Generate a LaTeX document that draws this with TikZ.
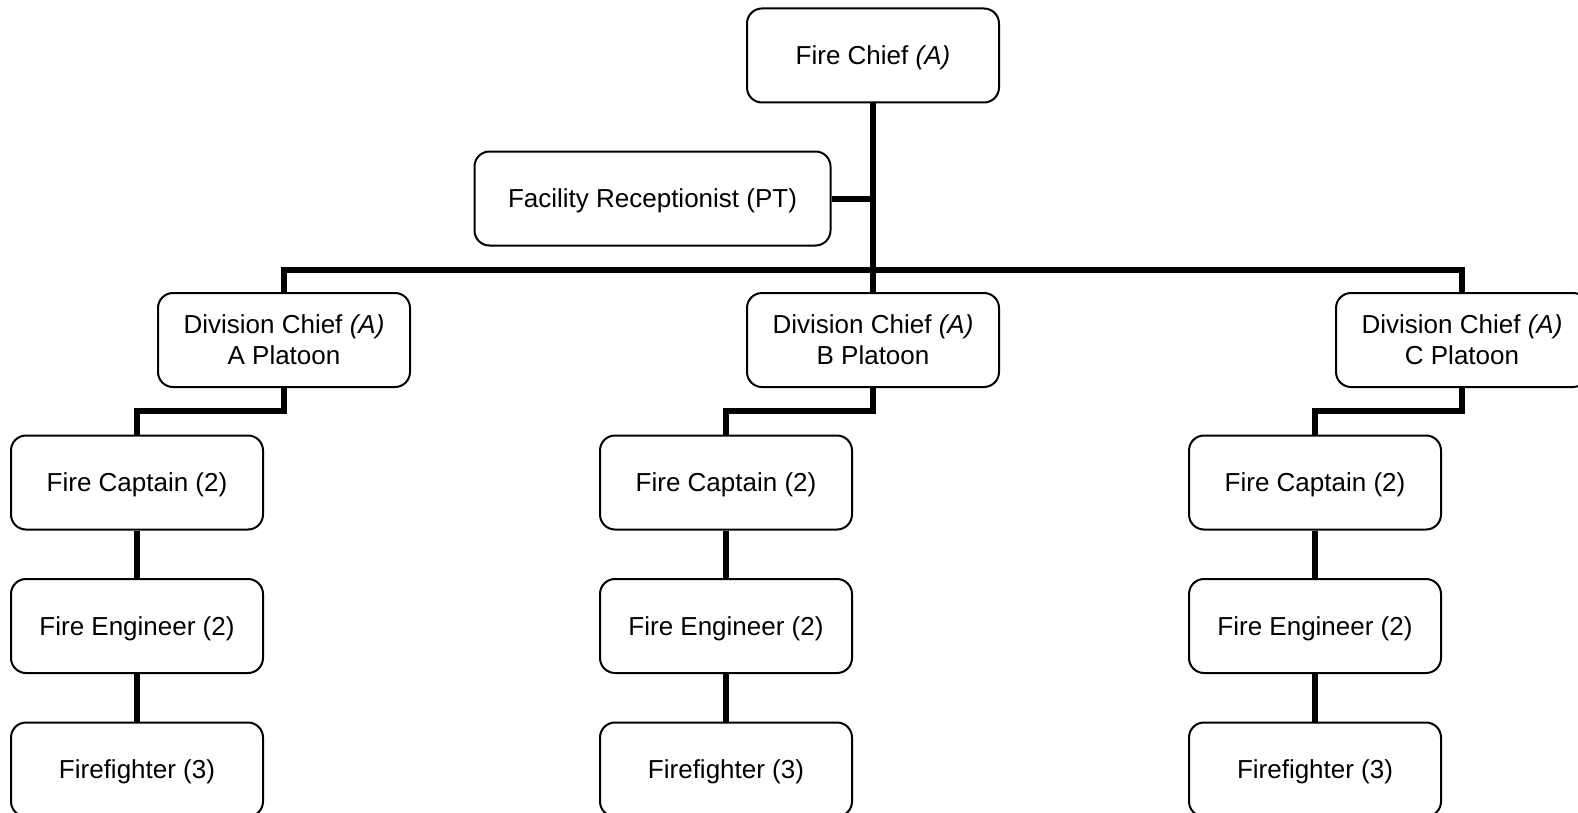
\documentclass[tikz,border=0pt]{standalone}
\usepackage{fontspec}
\setmainfont{Liberation Sans}
\begin{document}
\begin{tikzpicture}[x=0.5pt,y=-0.5pt,
  post/.style={draw=black, line width=1pt, rounded corners=7.5pt, fill=white,
    minimum width=126pt, minimum height=47pt, inner sep=0pt, align=center,
    text depth=0pt, font=\fontsize{13}{15.5}\selectfont},
  wide/.style={post, minimum width=178pt},
  link/.style={line width=3pt, line cap=butt}]
\useasboundingbox (0,0) rectangle (1578,813);
\begin{scope}
\clip (0,0) rectangle (1578,813);
% top of the tree
\node[post] (chief) at (873,55.5) {Fire Chief \textit{(A)}};
\node[wide] (recep) at (652.5,198.5) {Facility Receptionist (PT)};
% division chiefs
\node[post] (divA) at (284,340) {Division Chief \textit{(A)}\\A Platoon};
\node[post] (divB) at (873,340) {Division Chief \textit{(A)}\\B Platoon};
\node[post] (divC) at (1462,340) {Division Chief \textit{(A)}\\C Platoon};
% platoon columns
\foreach \p/\x in {A/137, B/726, C/1315}{
  \node[post] (cap\p) at (\x,482.5) {Fire Captain (2)};
  \node[post] (eng\p) at (\x,626) {Fire Engineer (2)};
  \node[post] (ff\p)  at (\x,769.5) {Firefighter (3)};
}
% connectors
\coordinate (bus) at (873,270);
\draw[link] (chief.south) -- (bus);
\draw[link] (recep.east) -- (recep.east -| chief.south);
\draw[link] (divA.north) |- (bus) -| (divC.north);
\draw[link] (bus) -- (divB.north);
\foreach \p in {A,B,C}{
  \draw[link] (div\p.south) -- ++(0,23) -| (cap\p.north);
  \draw[link] (cap\p.south) -- (eng\p.north);
  \draw[link] (eng\p.south) -- (ff\p.north);
}
\end{scope}
\end{tikzpicture}
\end{document}
